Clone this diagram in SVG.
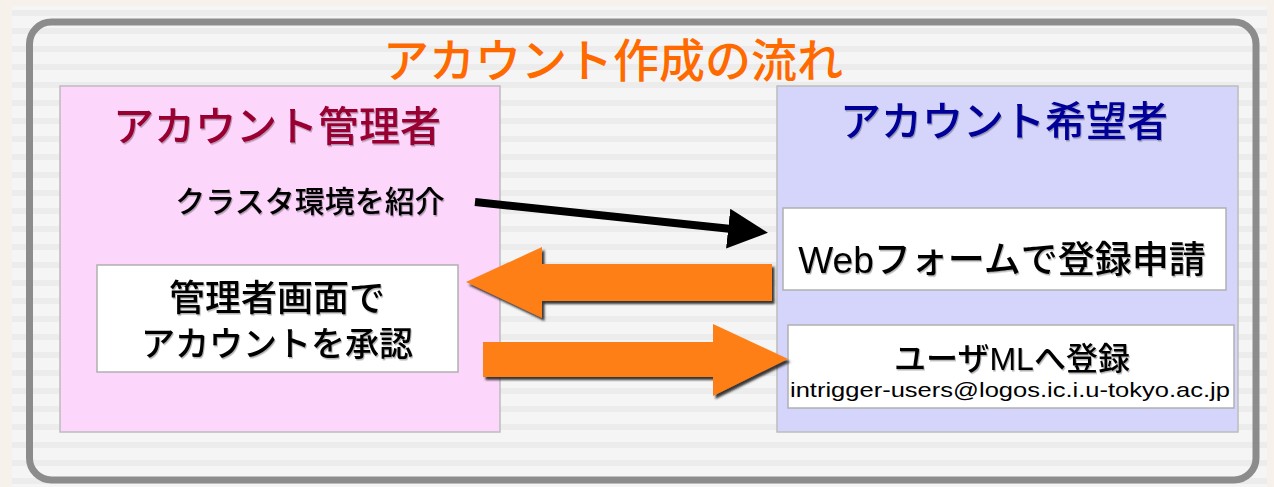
<svg xmlns="http://www.w3.org/2000/svg" width="1274" height="487" viewBox="0 0 1274 487">
<defs>
<style>
.t{font-family:"Liberation Sans","Noto Sans CJK JP",sans-serif;text-anchor:middle}
.box{stroke:#bcbcbc;stroke-width:1.5}
.wbox{fill:#ffffff;stroke:#b0b0b0;stroke-width:1.5}
</style>
<pattern id="stripes" width="8" height="18" patternUnits="userSpaceOnUse">
<rect width="8" height="18" fill="#f5f5f5"/>
<rect y="10" width="8" height="6" fill="#ececec"/>
</pattern>
<filter id="sh" x="-10%" y="-10%" width="130%" height="140%">
<feDropShadow dx="2.5" dy="3" stdDeviation="0.8" flood-color="#222" flood-opacity="0.9"/>
</filter>
<filter id="tsh" x="-5%" y="-10%" width="110%" height="130%">
<feDropShadow dx="1" dy="1.5" stdDeviation="0.6" flood-color="#000" flood-opacity="0.3"/>
</filter>
<marker id="ah" markerWidth="5" markerHeight="5" refX="4" refY="2.5" orient="auto" markerUnits="strokeWidth">
<path d="M0,0 L5,2.5 L0,5 Z" fill="#000"/>
</marker>
</defs>
<rect width="1274" height="487" fill="#f6f1ea"/>
<rect x="12" y="6" width="1255" height="481" fill="url(#stripes)"/>
<g id="frame">
<rect x="29.5" y="22" width="1226.5" height="458" rx="22" fill="url(#stripes)" stroke="#8c8c8c" stroke-width="7"/>
</g>
<g id="title">
<text class="t" x="613" y="77" font-size="46" fill="#ff6a00" font-weight="500">アカウント作成の流れ</text>
</g>
<g id="admin">
<rect class="box" x="60" y="86" width="440" height="346" fill="#fdd6fc"/>
<text class="t" x="277" y="141" font-size="41" fill="#990033" font-weight="500" filter="url(#tsh)">アカウント管理者</text>
</g>
<g id="applicant">
<rect class="box" x="777" y="86" width="461" height="346" fill="#d5d5fb"/>
<text class="t" x="1004" y="136" font-size="41" fill="#000099" font-weight="500" filter="url(#tsh)">アカウント希望者</text>
</g>
<g id="intro">
<text class="t" x="310" y="212" font-size="30" fill="#000" font-weight="500" filter="url(#tsh)">クラスタ環境を紹介</text>
</g>
<g id="approve">
<rect class="wbox" x="97" y="265" width="361" height="107"/>
<text class="t" x="277" y="311" font-size="36" fill="#000" font-weight="500" filter="url(#tsh)">管理者画面で</text>
<text class="t" x="277" y="356" font-size="34" fill="#000" font-weight="500" filter="url(#tsh)">アカウントを承認</text>
</g>
<g id="webform">
<rect class="wbox" x="783" y="208" width="443" height="82"/>
<text class="t" x="1002" y="273" font-size="37" fill="#000" font-weight="500" filter="url(#tsh)">Webフォームで登録申請</text>
</g>
<g id="ml">
<rect class="wbox" x="788" y="325" width="446" height="83"/>
<text class="t" x="1012" y="370" font-size="32" fill="#000" font-weight="500" filter="url(#tsh)">ユーザMLへ登録</text>
<text class="t" x="1010" y="397" font-size="21" fill="#000" textLength="440" lengthAdjust="spacingAndGlyphs">intrigger-users@logos.ic.i.u-tokyo.ac.jp</text>
</g>
<g id="connectors">
<line x1="475" y1="202" x2="760" y2="232" stroke="#000" stroke-width="8" marker-end="url(#ah)"/>
<path d="M772,264 L542,264 L542,247 L466,282 L542,318 L542,301 L772,301 Z" fill="#fd7f14" filter="url(#sh)"/>
<path d="M483,342 L713,342 L713,324 L788,359 L713,396 L713,377 L483,377 Z" fill="#fd7f14" filter="url(#sh)"/>
</g>
</svg>
